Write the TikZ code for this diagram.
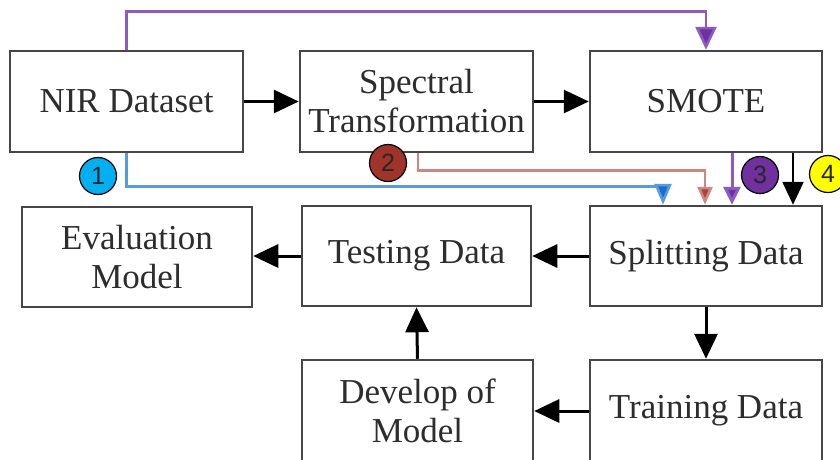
\documentclass[tikz,border=0pt]{standalone}
\usepackage{fontspec}
\setmainfont{Liberation Serif}
\newfontfamily\digitfont{Liberation Sans}
\usetikzlibrary{arrows.meta}

\definecolor{boxline}{RGB}{70,70,70}
\definecolor{boxtext}{RGB}{45,45,45}
\definecolor{lineblue}{RGB}{85,155,225}
\definecolor{headblue}{RGB}{25,110,205}
\definecolor{fillcyan}{RGB}{0,176,240}
\definecolor{linered}{RGB}{205,135,128}
\definecolor{headred}{RGB}{175,65,55}
\definecolor{fillred}{RGB}{160,52,42}
\definecolor{linepurple}{RGB}{140,90,195}
\definecolor{headpurple}{RGB}{112,48,160}
\definecolor{fillpurple}{RGB}{112,48,160}
\definecolor{fillyellow}{RGB}{255,255,0}

\tikzset{
  stage/.style={draw=boxline, line width=2.5pt, fill=white, align=center,
    text=boxtext, font=\fontsize{35}{39}\selectfont, inner sep=0pt},
  flow/.style={line width=3pt, draw=black,
    -{Triangle[length=25pt,width=23pt]}},
  route/.style={line width=2.6pt},
  badge/.style={circle, draw=black, line width=1.2pt, minimum size=37pt,
    inner sep=0pt, font=\digitfont\fontsize{25}{25}\selectfont, text=black!85}
}

\begin{document}
\begin{tikzpicture}[x=1pt,y=-1pt]
\useasboundingbox (0,0) rectangle (840,459);
\clip (0,0) rectangle (840,459);

% process boxes
\node[stage, minimum width=233pt, minimum height=101pt] (nir)   at (126.5,101.5) {NIR Dataset};
\node[stage, minimum width=233pt, minimum height=101pt] (spec)  at (416.5,101.5) {Spectral\\Transformation};
\node[stage, minimum width=232pt, minimum height=101pt] (smote) at (706,101.5) {SMOTE};
\node[stage, minimum width=230pt, minimum height=100pt] (eval)  at (137,257) {Evaluation\\Model};
\node[stage, minimum width=229pt, minimum height=100pt] (test)  at (416.5,256) {Testing Data};
\node[stage, minimum width=232pt, minimum height=100pt] (split) at (706,256) {Splitting Data};
\node[stage, minimum width=231pt, minimum height=102pt] (dev)   at (417.5,411) {Develop of\\Model};
\node[stage, minimum width=232pt, minimum height=102pt] (train) at (706,411) {Training Data};

% main flow
\draw[flow] (nir.east) -- (spec.west);
\draw[flow] (spec.east) -- (smote.west);
\draw[flow] (split.west) -- (test.east);
\draw[flow] (test.west) -- (eval.east |- test.west);
\draw[flow] (split.south) -- (train.north);
\draw[flow] (train.west) -- (dev.east);
\draw[flow] (dev.north) -- (test.south);

% data routes into SMOTE and splitting
\draw[route, draw=linepurple, -{Triangle[length=23pt,width=21pt,fill=headpurple]}]
  (nir.north) -- ++(0,-38) -| (smote.north);
\draw[route, draw=lineblue, -{Triangle[length=21pt,width=17pt,fill=headblue]}]
  (nir.south) |- ([xshift=-43pt,yshift=18pt]split.north) -- ([xshift=-43pt]split.north);
\draw[route, draw=linered, -{Triangle[length=18pt,width=15pt,fill=headred]}]
  ([xshift=1.5pt]spec.south) |- ([xshift=-1pt,yshift=34pt]split.north) -- ([xshift=-1pt]split.north);
\draw[route, line width=3pt, draw=linepurple, -{Triangle[length=18pt,width=17pt,fill=headpurple]}]
  ([xshift=26pt]smote.south) -- ([xshift=26pt]split.north);
\draw[route, line width=2.4pt, draw=black, -{Triangle[length=23pt,width=21pt]}]
  ([xshift=87pt]smote.south) -- ([xshift=87pt]split.north);

% numbered badges
\node[badge, fill=fillcyan]   (b1) at (98,176)  {1};
\node[badge, fill=fillred]    (b2) at (388,163) {2};
\node[badge, fill=fillpurple] (b3) at (760,175) {3};
\node[badge, fill=fillyellow] (b4) at (828,174) {4};
\end{tikzpicture}
\end{document}
